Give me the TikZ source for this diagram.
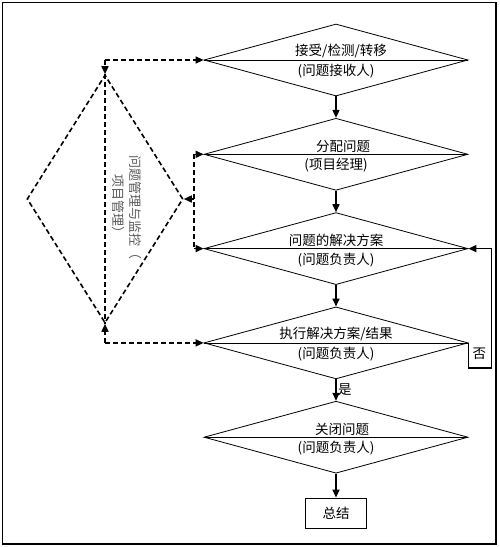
\documentclass[tikz,border=0pt]{standalone}
\usepackage{fontspec}
\newfontfamily\cjk{Noto Sans CJK SC}
\usetikzlibrary{shapes.geometric, arrows.meta, positioning, calc}

\begin{document}
\begin{tikzpicture}[
    x=1pt, y=-1pt,
    % Styles
    dia/.style={diamond, draw, line width=0.8pt, inner sep=0pt, minimum width=264pt, minimum height=72pt},
    sumbox/.style={rectangle, draw, line width=0.8pt, minimum width=61pt, minimum height=30pt, font=\cjk\fontsize{13.5}{16}\selectfont},
    ctr/.style={diamond, draw, dashed, dash pattern=on 5pt off 3pt, line width=1.6pt, inner sep=0pt, minimum width=156pt, minimum height=248pt},
    txt/.style={inner sep=0pt, font=\cjk\fontsize{13.5}{16}\selectfont},
    vtxt/.style={inner sep=0pt, align=center, text=black!65, font=\cjk\fontsize{13}{17}\selectfont},
    arrow/.style={-{Triangle[length=8pt, width=7pt]}, line width=1.6pt},
    dasharrow/.style={-{Triangle[length=8pt, width=7pt]}, line width=1.6pt, dash pattern=on 5pt off 3pt},
    dashline/.style={line width=1.6pt, dash pattern=on 5pt off 3pt},
    node distance=21.5pt,
]

\useasboundingbox (0,0) rectangle (500,547);
\draw[line width=1.2pt] (2.5,2.5) rectangle (496,544);

% === main flow ===
\node[dia] (d1) at (336,60) {};
\node[dia, below=of d1] (d2) {};
\node[dia, below=of d2] (d3) {};
\node[dia, below=of d3] (d4) {};
\node[dia, below=of d4] (d5) {};
\node[sumbox, below=24pt of d5] (sum) {总结};

% middle lines
\foreach \d in {d1,d2,d3,d4,d5}
  \draw[line width=0.8pt] (\d.west) -- (\d.east);

% texts
\node[txt, above=2pt of d1.center, xshift=5pt] (t1a) {接受/检测/转移};
\node[txt, below=4pt of d1.center] (t1b) {(问题接收人)};
\node[txt, above=1pt of d2.center, xshift=7pt] (t2a) {分配问题};
\node[txt, below=4pt of d2.center] (t2b) {(项目经理)};
\node[txt, above=2pt of d3.center] (t3a) {问题的解决方案};
\node[txt, below=4pt of d3.center] (t3b) {(问题负责人)};
\node[txt, above=2pt of d4.center] (t4a) {执行解决方案/结果};
\node[txt, below=4pt of d4.center] (t4b) {(问题负责人)};
\node[txt, above=1pt of d5.center, xshift=6pt] (t5a) {关闭问题};
\node[txt, below=4pt of d5.center] (t5b) {(问题负责人)};

% flow arrows
\draw[arrow] (d1.south) -- (d2.north);
\draw[arrow] (d2.south) -- (d3.north);
\draw[arrow] (d3.south) -- (d4.north);
\draw[arrow] (d4.south) -- (d5.north);
\draw[arrow] (d5.south) -- (sum.north);

% yes / no
\coordinate (m45) at ($(d4.south)!0.5!(d5.north)$);
\node[txt, right=2pt of m45] (shi) {是};
\draw[arrow] (d4.east) -- ++(0,25) -- ++(23,0) |- (d3.east);
\node[txt] (fou) at ($(d4.east)+(11,11)$) {否};

% === control (dashed) ===
\node[ctr] (ctl) at (105,199) {};
\node[vtxt, rotate=-90] (vlab) at (126.5,207) {问题管理与监控（\\项目管理）};

\coordinate (ctop) at (ctl.north |- d1.west);
\coordinate (cbot) at (ctl.south |- d4.west);
\coordinate (rtop) at ($(ctl.east |- d2.west)+(10,0)$);
\coordinate (rbot) at ($(ctl.east |- d3.west)+(10,0)$);
\coordinate (rmid) at ($(ctl.east)+(10,0)$);

\draw[dasharrow] (ctop) -- (d1.west);
\draw[dasharrow] (ctop) -- (ctl.north);
\draw[dashline] (ctl.north) -- (ctl.south);
\draw[dasharrow] (cbot) -- (ctl.south);
\draw[dasharrow] (cbot) -- (d4.west);
\draw[dashline] (rtop) -- (rbot);
\draw[dasharrow] (rmid) -- (ctl.east);
\draw[dasharrow] (rtop) -- (d2.west);
\draw[dasharrow] (rbot) -- (d3.west);

\end{tikzpicture}
\end{document}
